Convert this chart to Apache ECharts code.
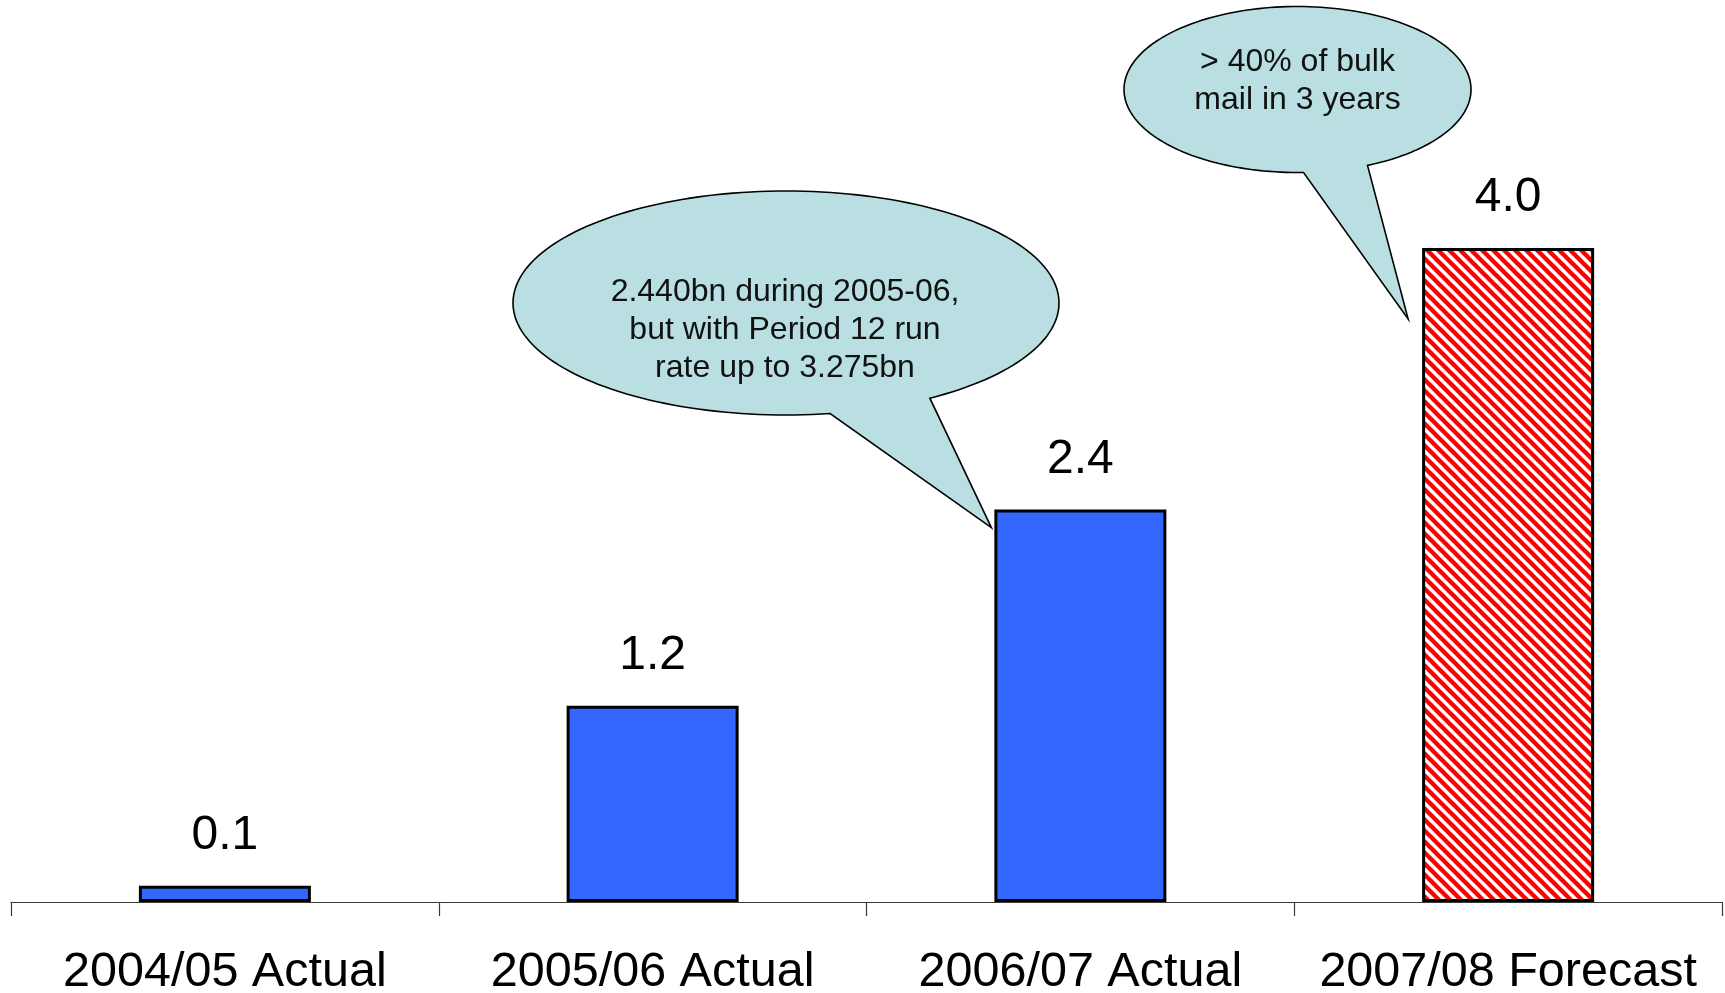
<!DOCTYPE html>
<html>
<head>
<meta charset="utf-8">
<script src="https://cdn.jsdelivr.net/npm/echarts@6/dist/echarts.min.js"></script>
<style>
  html, body { margin: 0; padding: 0; background: #ffffff; }
  #chart { width: 1725px; height: 993px; }
</style>
</head>
<body>
<div id="chart"></div>
<script>
// Bulk mail volumes (bn items) per year
const categories = ['2004/05 Actual', '2005/06 Actual', '2006/07 Actual', '2007/08 Forecast'];
const volumes = [0.1, 1.2, 2.4, 4.0];
const isForecast = [false, false, false, true];

// Speech-bubble notes
const noteRunRate = ['2.440bn during 2005-06,', 'but with Period 12 run', 'rate up to 3.275bn'];
const noteShare = ['> 40% of bulk', 'mail in 3 years'];

const FONT = '"Liberation Sans", Arial, Helvetica, sans-serif';

// Red diagonal hatching for the forecast bar
function hatchPattern() {
  const s = 11;
  const c = document.createElement('canvas');
  c.width = s; c.height = s;
  const g = c.getContext('2d');
  g.fillStyle = '#ffffff';
  g.fillRect(0, 0, s, s);
  g.strokeStyle = '#ff0000';
  g.lineWidth = 4.4;
  g.beginPath();
  for (let k = -1; k <= 1; k++) {
    g.moveTo(k * s - 2, -2);
    g.lineTo(k * s + s + 2, s + 2);
  }
  g.stroke();
  return c;
}

const chart = echarts.init(document.getElementById('chart'), null, { renderer: 'canvas' });

const barData = volumes.map((v, i) => ({
  value: v,
  itemStyle: isForecast[i]
    ? { color: { image: hatchPattern(), repeat: 'repeat' } }
    : { color: '#3366ff' }
}));

chart.setOption({
  animation: false,
  backgroundColor: '#ffffff',
  grid: { left: 11, right: 3, top: 84.5, bottom: 91, containLabel: false, outerBoundsMode: 'none' },
  xAxis: {
    type: 'category',
    data: categories,
    axisLine: { show: true, lineStyle: { color: '#3a3a3a', width: 1.2 } },
    axisTick: { show: true, length: 14, inside: false, interval: 0,
      lineStyle: { color: '#3a3a3a', width: 1.2 } },
    axisLabel: { interval: 0, margin: 46, fontSize: 48.5, color: '#000000', fontFamily: FONT,
      hideOverlap: false },
    splitLine: { show: false }
  },
  yAxis: {
    type: 'value', min: 0, max: 5,
    show: false,
    splitLine: { show: false }
  },
  series: [{
    type: 'bar',
    data: barData,
    barWidth: 172,
    itemStyle: { borderColor: '#000000', borderWidth: 3 },
    label: {
      show: true, position: 'top', distance: 26,
      fontSize: 48, color: '#000000', fontFamily: FONT,
      formatter: p => p.value.toFixed(1)
    },
    z: 2
  }]
});

// Speech bubble: ellipse body joined to a pointed tail aimed at a bar.
// The outline runs the long way round the ellipse from one tail base to the other.
function bubble(cx, cy, rx, ry, angA, angB, tip, lines, textX, textY) {
  const pts = [];
  const steps = 180;
  const span = 360 - (angA - angB);
  for (let i = 0; i <= steps; i++) {
    const a = (angA + span * i / steps) * Math.PI / 180;
    pts.push([cx + rx * Math.cos(a), cy + ry * Math.sin(a)]);
  }
  pts.push([tip[0], tip[1]]);
  return {
    type: 'group',
    z: 10,
    children: [
      { type: 'polygon', shape: { points: pts },
        style: { fill: '#b9dfe3', stroke: '#000000', lineWidth: 1.6, lineJoin: 'miter' } },
      { type: 'text',
        style: { text: lines.join('\n'), x: textX, y: textY, align: 'center', verticalAlign: 'middle',
          font: `32px ${FONT}`, lineHeight: 38, fill: '#111111' } }
    ]
  };
}

// Tails point at the upper-left edge of the bars they describe
const halfBar = 86;
const top3 = chart.convertToPixel({ seriesIndex: 0 }, [2, volumes[2]]);
const top4 = chart.convertToPixel({ seriesIndex: 0 }, [3, volumes[3]]);
const tip3 = [top3[0] - halfBar - 3, top3[1] + 18];
const tip4 = [top4[0] - halfBar - 14, top4[1] + 71];

chart.setOption({
  graphic: [
    bubble(786, 303, 273, 112, 80.7, 58.2, tip3, noteRunRate, 785, 330),
    bubble(1297.5, 89.5, 173.5, 83, 88, 66.2, tip4, noteShare, 1297.5, 81)
  ]
});
</script>
</body>
</html>
